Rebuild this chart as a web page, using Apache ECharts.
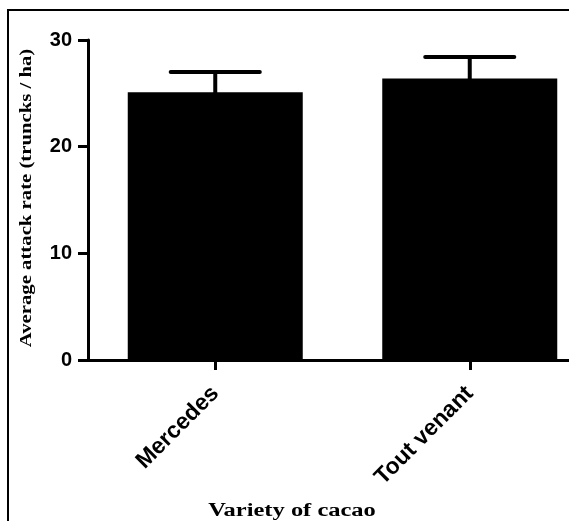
<!DOCTYPE html>
<html>
<head>
<meta charset="utf-8">
<script src="https://cdn.jsdelivr.net/npm/echarts@6/dist/echarts.min.js"></script>
<style>html,body{margin:0;padding:0;background:#fff}#c{width:569px;height:521px}</style>
</head>
<body>
<div id="c"></div>
<script>
var categories = ['Mercedes', 'Tout venant'];
var means = [25.1, 26.4];
var errUpper = [27.0, 28.4];
var yTicks = [0, 10, 20, 30];

var chart = echarts.init(document.getElementById('c'), null, {renderer: 'canvas'});
var errData = categories.map(function (c, i) { return [i, means[i], errUpper[i]]; });

chart.setOption({
  animation: false,
  backgroundColor: '#fff',
  grid: {left: 88, top: 40, height: 320, width: 509, containLabel: false, outerBoundsMode: 'none'},
  xAxis: {
    type: 'category',
    data: categories,
    boundaryGap: true,
    axisLine: {lineStyle: {color: '#000', width: 3}},
    axisTick: {show: true, alignWithLabel: true, length: 10, lineStyle: {color: '#000', width: 3}},
    axisLabel: {rotate: 45, margin: 30, color: '#000', fontFamily: 'Liberation Sans, Arial', fontWeight: 'bold', fontSize: 23}
  },
  yAxis: {
    type: 'value',
    min: 0, max: 30, interval: 10,
    axisLine: {show: true, lineStyle: {color: '#000', width: 3}},
    axisTick: {show: true, length: 10, lineStyle: {color: '#000', width: 3}},
    splitLine: {show: false},
    axisLabel: {margin: 16, color: '#000', fontFamily: 'Liberation Sans, Arial', fontWeight: 'bold', fontSize: 20,
      formatter: function (v) { return yTicks.indexOf(v) >= 0 ? String(v) : ''; }}
  },
  series: [
    {
      type: 'bar',
      data: means,
      barWidth: 175,
      itemStyle: {color: '#000'}
    },
    {
      type: 'custom',
      data: errData,
      z: 1,
      renderItem: function (params, api) {
        var x = api.value(0);
        var top = api.coord([x, api.value(2)]);
        var base = api.coord([x, api.value(1)]);
        var half = api.size([1, 0])[0] * 0.175;
        var st = {stroke: '#000', lineWidth: 4, lineCap: 'round'};
        return {
          type: 'group',
          children: [
            {type: 'line', shape: {x1: top[0], y1: top[1], x2: base[0], y2: base[1]}, style: st},
            {type: 'line', shape: {x1: top[0] - half, y1: top[1], x2: top[0] + half, y2: top[1]}, style: st}
          ]
        };
      }
    }
  ],
  graphic: [
    {type: 'rect', shape: {x: 8, y: 10, width: 600, height: 600}, style: {fill: 'none', stroke: '#000', lineWidth: 2}, silent: true, z: 100},
    {type: 'text', x: 27, y: 198, rotation: Math.PI / 2, scaleX: 1.22,
      style: {text: 'Average attack rate (truncks / ha)', fill: '#000', font: 'bold 17px "Liberation Serif", "Times New Roman", serif', align: 'center', verticalAlign: 'middle'}},
    {type: 'text', x: 292, y: 511, scaleX: 1.36,
      style: {text: 'Variety of cacao', fill: '#000', font: 'bold 18px "Liberation Serif", "Times New Roman", serif', align: 'center', verticalAlign: 'middle'}}
  ]
});
</script>
</body>
</html>
